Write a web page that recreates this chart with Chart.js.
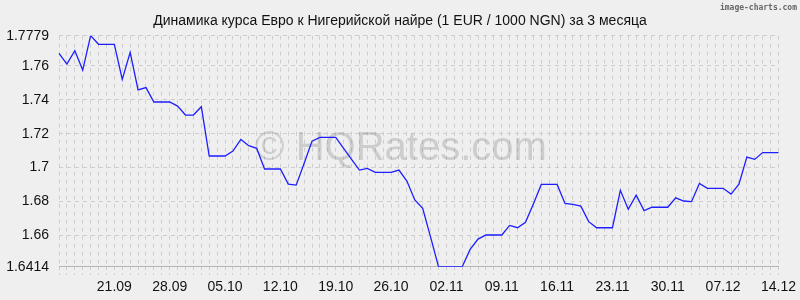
<!DOCTYPE html>
<html>
<head>
<meta charset="utf-8">
<script src="https://cdn.jsdelivr.net/npm/chart.js@4/dist/chart.umd.min.js"></script>
<style>
  html, body { margin: 0; padding: 0; background: #efefef; }
  #wrap { width: 800px; height: 300px; }
</style>
</head>
<body>
<div id="wrap"><canvas id="rateChart" width="800" height="300"></canvas></div>
<script>
// Dates: 14.09 .. 14.12, one point per day
const startDay = new Date(2021, 8, 14)
const dayCount = 92

const rates = [
  1.7675, 1.7611, 1.7690, 1.7576, 1.7779, 1.7728, 1.7728, 1.7728, 1.7521, 1.7680,
  1.7458, 1.7472, 1.7387, 1.7387, 1.7387, 1.7363, 1.7310, 1.7310, 1.7359, 1.7068,
  1.7068, 1.7068, 1.7097, 1.7166, 1.7129, 1.7113, 1.6991, 1.6991, 1.6991, 1.6902,
  1.6896, 1.7024, 1.7156, 1.7178, 1.7178, 1.7178, 1.7113, 1.7048, 1.6985, 1.6995,
  1.6971, 1.6971, 1.6971, 1.6985, 1.6920, 1.6808, 1.6759, 1.6589, 1.6414, 1.6414,
  1.6414, 1.6414, 1.6516, 1.6577, 1.6601, 1.6601, 1.6601, 1.6658, 1.6644, 1.6676,
  1.6785, 1.6900, 1.6900, 1.6900, 1.6788, 1.6782, 1.6772, 1.6680, 1.6644, 1.6644,
  1.6644, 1.6865, 1.6753, 1.6837, 1.6745, 1.6765, 1.6765, 1.6765, 1.6821, 1.6802,
  1.6798, 1.6906, 1.6877, 1.6877, 1.6877, 1.6843, 1.6902, 1.7062, 1.7048, 1.7088,
  1.7088, 1.7088
]

const yMin = 1.6414
const yMax = 1.7779
const yGridValues = [1.6414, 1.65, 1.66, 1.67, 1.68, 1.69, 1.70, 1.71, 1.72, 1.73, 1.74, 1.75, 1.76, 1.77, 1.7779]
const yTickLabels = ['1.6414', '', '1.66', '', '1.68', '', '1.7', '', '1.72', '', '1.74', '', '1.76', '', '1.7779']

const titleText = 'Динамика курса Евро к Нигерийской найре (1 EUR / 1000 NGN) за 3 месяца'
const fontFamily = '"Liberation Sans", Arial, sans-serif'

function pad2(n){ return (n < 10 ? '0' : '') + n }

let dayLabels = []
for (let i = 0; i < dayCount; i++) {
    let d = new Date(startDay.getFullYear(), startDay.getMonth(), startDay.getDate() + i)
    dayLabels.push(pad2(d.getDate()) + '.' + pad2(d.getMonth() + 1))
}

const decorPlugin = {
    id: 'decor',
    beforeDraw(chart){
        const ctx = chart.ctx
        ctx.save()
        ctx.fillStyle = '#efefef'
        ctx.fillRect(0, 0, chart.width, chart.height)
        // title
        ctx.font = '14px ' + fontFamily
        ctx.fillStyle = '#111'
        ctx.textAlign = 'center'
        ctx.textBaseline = 'alphabetic'
        ctx.fillText(titleText, 400, 25)
        ctx.restore()
    },
    beforeDatasetsDraw(chart){
        const ctx = chart.ctx
        ctx.save()
        ctx.font = '40px ' + fontFamily
        ctx.fillStyle = 'rgba(120,120,120,0.28)'
        ctx.textAlign = 'center'
        ctx.textBaseline = 'alphabetic'
        ctx.fillText('© HQRates.com', 401, 160)
        ctx.restore()
    },
    afterDraw(chart){
        const ctx = chart.ctx
        ctx.save()
        ctx.font = 'bold 8px "DejaVu Sans Mono", monospace'
        ctx.fillStyle = '#666'
        ctx.textAlign = 'right'
        ctx.textBaseline = 'alphabetic'
        ctx.fillText('image-charts.com', 797, 10)
        ctx.restore()
    }
}

var ctx = document.getElementById('rateChart').getContext('2d')
var chart = new Chart(ctx, {
    type: 'line',
    data: {
        labels: dayLabels,
        datasets: [{
            data: rates,
            borderColor: 'rgb(30,30,255)',
            borderWidth: 1.3,
            pointRadius: 0,
            tension: 0,
            fill: false
        }]
    },
    options: {
        responsive: false,
        animation: false,
        events: [],
        layout: { padding: { left: 0, right: 21, top: 35.67, bottom: 0 } },
        plugins: {
            legend: { display: false },
            tooltip: { enabled: false },
            title: { display: false }
        },
        scales: {
            x: {
                type: 'category',
                offset: false,
                grid: {
                    color: '#cdcdcd',
                    tickLength: 8,
                    tickColor: '#cdcdcd',
                    tickBorderDash: [3, 3]
                },
                border: { display: true, color: '#b4b4b4', width: 1, dash: [4, 4] },
                ticks: {
                    autoSkip: false,
                    maxRotation: 0,
                    minRotation: 0,
                    padding: 4,
                    color: '#111',
                    font: { family: fontFamily, size: 14 },
                    callback: function(value, index){
                        return ((dayCount - 1 - index) % 7 === 0 && index > 0) ? dayLabels[index] : ''
                    }
                },
                afterFit: function(scale){ scale.height = 300 - 266.67 }
            },
            y: {
                min: yMin,
                max: yMax,
                grid: {
                    color: '#cdcdcd',
                    drawTicks: false
                },
                border: { display: false, dash: [4, 4] },
                ticks: {
                    padding: 10,
                    color: '#111',
                    font: { family: fontFamily, size: 14 },
                    callback: function(value, index){ return yTickLabels[index] }
                },
                afterBuildTicks: function(scale){
                    scale.ticks = yGridValues.map(v => ({ value: v }))
                },
                afterFit: function(scale){ scale.width = 59 }
            }
        }
    },
    plugins: [decorPlugin]
})
</script>
</body>
</html>
